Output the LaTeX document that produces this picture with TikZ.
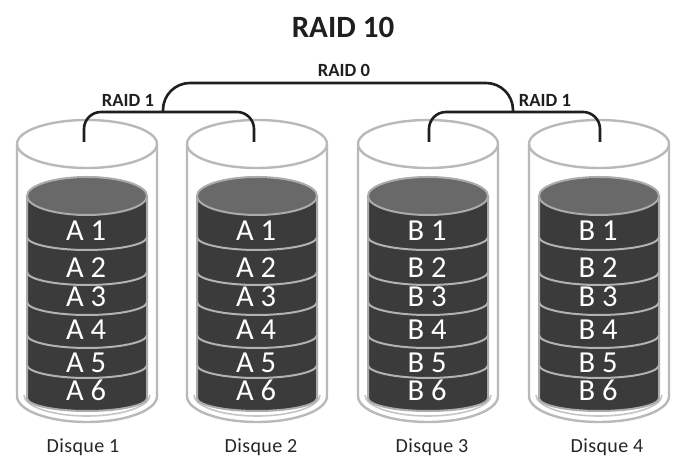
\documentclass[tikz,border=0pt]{standalone}
\usepackage{fontspec}
\setmainfont{Carlito}
\newfontfamily\labfont[LetterSpace=2]{Carlito}
\begin{document}
\begin{tikzpicture}[x=1pt,y=1pt,
  glass/.style={draw=gray!55!white,line width=2.4pt},
  glassin/.style={draw=gray!45!white,line width=1.6pt},
  stackbody/.style={fill=black!77},
  stacktop/.style={fill=black!59,draw=black!33,line width=2pt},
  stackedge/.style={draw=black!33,line width=2pt},
  sepline/.style={draw=black!30,line width=2pt},
  blocktxt/.style={text=white,font=\fontsize{30.5}{31}\selectfont,inner sep=0pt,anchor=base},
  disklab/.style={text=black!85,font=\labfont\fontsize{20}{20}\selectfont,inner sep=0pt,anchor=base},
  raidlab/.style={text=black!88,font=\bfseries\fontsize{18.6}{19}\selectfont,inner sep=0pt},
  bracket/.style={draw=black!88,line width=2.6pt}]
\useasboundingbox (0,0) rectangle (675,462);
\fill[white] (0,0) rectangle (675,462);

\foreach \i/\cx/\L/\lx in {1/87/A/83, 2/257/A/261, 3/428/B/432, 4/599/B/607}{
  % outer glass cylinder
  \draw[glass] (\cx-70,318) -- (\cx-70,66)
     arc[start angle=180,end angle=360,x radius=70,y radius=26] -- (\cx+70,318);
  \draw[glass] (\cx,318) ellipse[x radius=70,y radius=24];
  \draw[glassin] (\cx-63,67) arc[start angle=180,end angle=360,x radius=63,y radius=21];
  % stack
  \fill[stackbody] (\cx-60,266) -- (\cx-60,64)
     arc[start angle=180,end angle=360,x radius=60,y radius=13] -- (\cx+60,266) -- cycle;
  \draw[stackedge] (\cx-60,266) -- (\cx-60,64)
     arc[start angle=180,end angle=360,x radius=60,y radius=13] -- (\cx+60,266);
  \foreach \yc in {225,190,160,127,97}{
    \draw[sepline] (\cx-60,\yc) arc[start angle=180,end angle=360,x radius=60,y radius=13];
  }
  \draw[stacktop] (\cx,266) ellipse[x radius=60,y radius=19];
  \foreach \j/\yb in {1/221,2/184,3/155,4/122,5/89,6/61}{
    \node[blocktxt] (d\i b\j) at (\cx-1,\yb) {\L\ \j};
  }
  \node[disklab] (disque\i) at (\lx,9) {Disque \i};
}

% bracket end points
\coordinate (e1) at (84,320);
\coordinate (e2) at (254,320);
\coordinate (e3) at (429,320);
\coordinate (e4) at (600,320);
\coordinate (j1) at (163,350);
\coordinate (j2) at (513,350);
\coordinate (top) at (338,379);

\draw[bracket,rounded corners=17pt] (e1) |- (j1) -| (e2);
\draw[bracket,rounded corners=17pt] (e3) |- (j2) -| (e4);
\draw[bracket,rounded corners=27pt] (j1) |- (top) -| (j2);

\node[raidlab] (r1a) at (128,362) {RAID 1};
\node[raidlab] (r1b) at (545,362) {RAID 1};
\node[raidlab] (r0) at (344,392) {RAID 0};
\node[raidlab,font=\bfseries\fontsize{31}{31}\selectfont] (title) at (343,435) {RAID 10};
\end{tikzpicture}
\end{document}
